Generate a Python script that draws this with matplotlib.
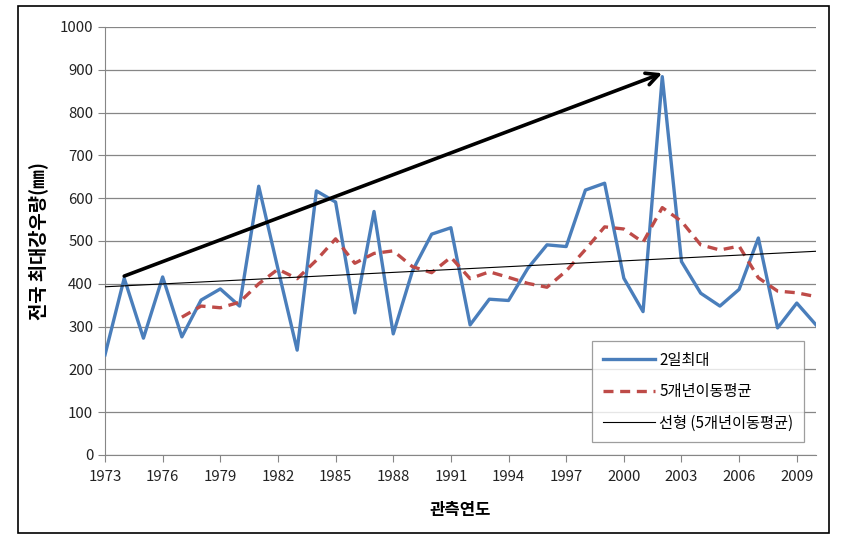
import numpy as np
import matplotlib
matplotlib.use("Agg")
import matplotlib.pyplot as plt
from matplotlib.patches import Rectangle

plt.rcParams["font.family"] = ["Noto Sans CJK KR", "DejaVu Sans"]
plt.rcParams["font.size"] = 10.8

years = list(range(1973, 2011))
max2day = [234, 413, 273, 416, 276, 362, 388, 348, 628, 435,
           245, 617, 591, 332, 569, 283, 430, 516, 531, 304,
           364, 361, 436, 491, 487, 619, 635, 413, 335, 884,
           452, 378, 348, 387, 507, 297, 355, 304]
# 5-year moving average, starts at 1977
ma_years = list(range(1977, 2011))
ma5 = [322, 348, 344, 357, 400, 434, 412, 455, 505, 448,
       471, 477, 440, 426, 462, 412, 428, 415, 401, 392,
       430, 480, 533, 528, 497, 578, 546, 491, 479, 488,
       414, 383, 379, 370]
trend_years = [1973, 2010]
trend_vals = [393, 476]
arrow_from = (1974, 418)
arrow_to = (2002, 892)

fig = plt.figure(figsize=(8.48, 5.40), dpi=100)
ax = fig.add_axes([105/848, 1-455/540, (816-105)/848, (455-27)/540])

ax.plot(years, max2day, color="#4A7EBB", lw=2.4, label="2일최대", zorder=3)
ax.plot(ma_years, ma5, color="#BE4B48", lw=2.4, ls=(0, (3, 2)), label="5개년이동평균", zorder=3)
ax.plot(trend_years, trend_vals, color="black", lw=0.8, label="선형 (5개년이동평균)", zorder=3)

ax.annotate("", xy=arrow_to, xytext=arrow_from,
            arrowprops=dict(arrowstyle="->", lw=2.6, color="black",
                            mutation_scale=22, shrinkA=0, shrinkB=0), zorder=4)

ax.set_xlim(1973, 2010)
ax.set_ylim(0, 1000)
ax.set_xticks(range(1973, 2010, 3))
ax.set_yticks(range(0, 1001, 100))
ax.grid(axis="y", color="#868686", lw=0.9)
ax.set_axisbelow(True)
for s in ["top", "right"]:
    ax.spines[s].set_visible(False)
for s in ["left", "bottom"]:
    ax.spines[s].set_color("#868686")
ax.tick_params(axis="both", colors="#868686", labelcolor="#222222", length=5)
ax.tick_params(axis="x", pad=6)

ax.set_ylabel("전국 최대강우량(㎜)", fontsize=13.5, fontweight="bold", labelpad=8)
ax.set_xlabel("관측연도", fontsize=12, fontweight="bold", labelpad=12)

leg = ax.legend(loc="lower right", bbox_to_anchor=(0.994, 0.012), frameon=True,
                fancybox=False, edgecolor="#868686", fontsize=11,
                handlelength=3.4, borderpad=0.7, labelspacing=0.95, handletextpad=0.3)
leg.get_frame().set_linewidth(0.9)

fig.patches.append(Rectangle((18/848, 1-533/540), (829-18)/848, (533-6)/540,
                             transform=fig.transFigure, fill=False,
                             edgecolor="black", lw=1.2))

fig.savefig("out.png", dpi=100)
